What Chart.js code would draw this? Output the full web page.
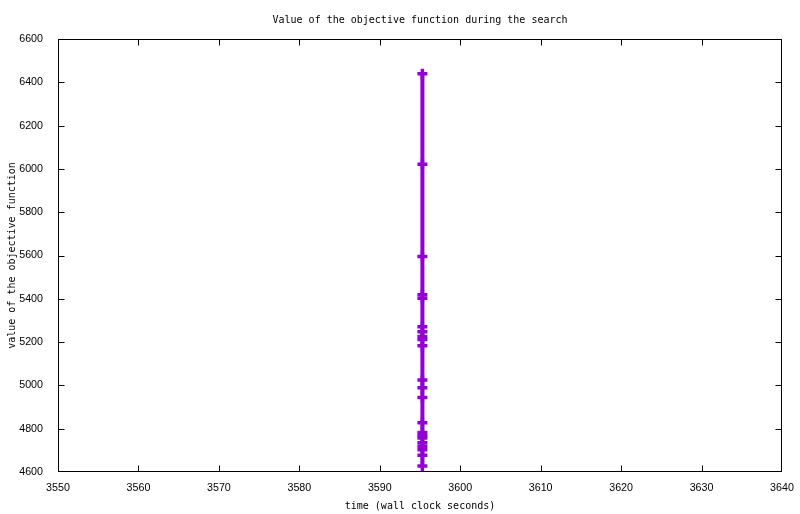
<!DOCTYPE html>
<html>
<head>
<meta charset="utf-8">
<script src="https://cdn.jsdelivr.net/npm/chart.js@4/dist/chart.umd.min.js"></script>
<style>
  html, body { margin: 0; padding: 0; background: #fff; }
  canvas { display: block; }
</style>
</head>
<body>
<canvas id="chart" width="800" height="514"></canvas>
<script>
// objective value samples, all logged at the same wall-clock second
const objective = [6439, 6021, 5595, 5419, 5402, 5271, 5248, 5226, 5212, 5183,
  5025, 4989, 4944, 4827, 4782, 4769, 4757, 4735, 4719, 4703, 4677, 4628];
const times = [3595.3, 3595.3, 3595.3, 3595.3, 3595.3, 3595.3, 3595.3,
  3595.3, 3595.3, 3595.3, 3595.3, 3595.3, 3595.3, 3595.3, 3595.3, 3595.3,
  3595.3, 3595.3, 3595.3, 3595.3, 3595.3, 3595.3];
const xTicks = [3550, 3560, 3570, 3580, 3590, 3600, 3610, 3620, 3630, 3640];
const yTicks = [4600, 4800, 5000, 5200, 5400, 5600, 5800, 6000, 6200, 6400, 6600];

const mono = "'DejaVu Sans Mono', monospace";
const sans = "'Liberation Sans', Arial, sans-serif";

const points = objective.map((v, i) => ({ x: times[i], y: v }));

// gnuplot-style box with inward ticks on all four sides
const framePlugin = {
  id: "frame",
  beforeDatasetsDraw(chart) {
    const { ctx, chartArea: a, scales } = chart;
    const L = Math.round(a.left) + 0.5, R = Math.round(a.right) - 0.5;
    const T = Math.round(a.top) + 0.5, B = Math.round(a.bottom) - 0.5;
    const clamp = (v, lo, hi) => Math.min(hi, Math.max(lo, v));
    ctx.save();
    ctx.strokeStyle = "#000";
    ctx.lineWidth = 1;
    ctx.strokeRect(L, T, R - L, B - T);
    ctx.beginPath();
    xTicks.forEach((t) => {
      const px = clamp(Math.round(scales.x.getPixelForValue(t)) + 0.5, L, R);
      ctx.moveTo(px, B); ctx.lineTo(px, B - 6);
      ctx.moveTo(px, T); ctx.lineTo(px, T + 6);
    });
    yTicks.forEach((t) => {
      const py = clamp(Math.round(scales.y.getPixelForValue(t)) + 0.5, T, B);
      ctx.moveTo(L, py); ctx.lineTo(L + 6, py);
      ctx.moveTo(R, py); ctx.lineTo(R - 6, py);
    });
    ctx.stroke();
    ctx.restore();
  },
  afterDraw(chart) {
    const { ctx, chartArea: a } = chart;
    ctx.save();
    ctx.fillStyle = "#000";
    ctx.font = "10px " + mono;
    ctx.textAlign = "center";
    ctx.textBaseline = "middle";
    ctx.fillText("Value of the objective function during the search", (a.left + a.right) / 2, 20);
    ctx.restore();
  },
};

new Chart(document.getElementById("chart"), {
  type: "scatter",
  data: {
    datasets: [{
      label: "objective",
      data: points,
      showLine: true,
      borderColor: "#9400d3",
      backgroundColor: "#9400d3",
      borderWidth: 4,
      pointStyle: "cross",
      pointRadius: 5,
      pointBorderWidth: 3.5,
      pointHoverRadius: 5,
    }],
  },
  options: {
    responsive: false,
    animation: false,
    devicePixelRatio: 1,
    layout: { padding: { top: 39, right: 18, left: 0, bottom: 0 } },
    plugins: {
      legend: { display: false },
      tooltip: { enabled: false },
      title: { display: false },
    },
    scales: {
      x: {
        type: "linear",
        min: 3550,
        max: 3640,
        afterFit: (s) => { s.height = 42; },
        afterBuildTicks: (s) => { s.ticks = xTicks.map((v) => ({ value: v })); },
        grid: { display: false },
        border: { display: false },
        ticks: {
          color: "#000",
          font: { family: sans, size: 10.7 },
          padding: 2,
          maxRotation: 0,
          callback: (v) => String(v),
        },
        title: {
          display: true,
          text: "time (wall clock seconds)",
          color: "#000",
          font: { family: mono, size: 10 },
          padding: { top: 0, bottom: 2 },
        },
      },
      y: {
        type: "linear",
        min: 4600,
        max: 6600,
        afterFit: (s) => { s.width = 58; },
        afterBuildTicks: (s) => { s.ticks = yTicks.map((v) => ({ value: v })); },
        grid: { display: false },
        border: { display: false },
        ticks: {
          color: "#000",
          font: { family: sans, size: 10.7 },
          padding: 7,
          callback: (v) => String(v),
        },
        title: {
          display: true,
          text: "value of the objective function",
          color: "#000",
          font: { family: mono, size: 10 },
          padding: { top: 6, bottom: 0 },
        },
      },
    },
  },
  plugins: [framePlugin],
});
</script>
</body>
</html>
